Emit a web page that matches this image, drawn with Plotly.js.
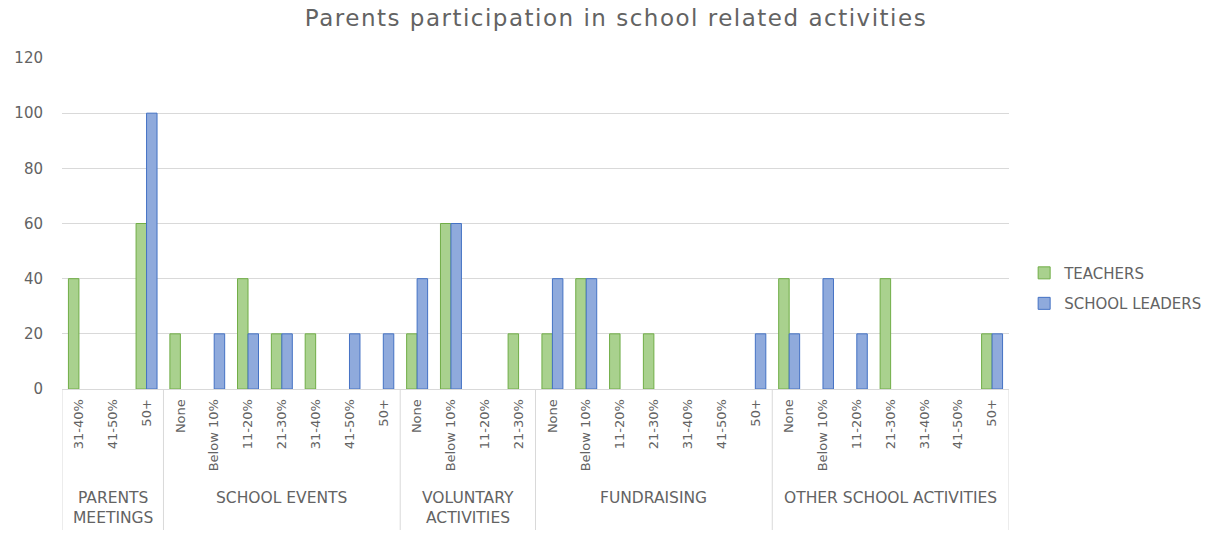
<!DOCTYPE html>
<html>
<head>
<meta charset="utf-8">
<script src="https://cdn.plot.ly/plotly-3.0.1.min.js"></script>
<style>
html,body{margin:0;padding:0;background:#fff;}
#chart{width:1211px;height:534px;}
#chart .gtitle{letter-spacing:1.5px;}
</style>
</head>
<body>
<div id="chart"></div>
<script>
// ---- data ----
const subCategories = [
  "31-40%","41-50%","50+",
  "None","Below 10%","11-20%","21-30%","31-40%","41-50%","50+",
  "None","Below 10%","11-20%","21-30%",
  "None","Below 10%","11-20%","21-30%","31-40%","41-50%","50+",
  "None","Below 10%","11-20%","21-30%","31-40%","41-50%","50+"
];
const groupNames = ["PARENTS\nMEETINGS","SCHOOL EVENTS","VOLUNTARY\nACTIVITIES","FUNDRAISING","OTHER SCHOOL ACTIVITIES"];
const groupSizes = [3, 7, 4, 7, 7];
const teachers = [40,0,60, 20,0,40,20,20,0,0, 20,60,0,20, 20,40,20,20,0,0,0, 40,0,0,40,0,0,20];
const schoolLeaders = [0,0,100, 0,20,20,20,0,20,20, 40,60,0,0, 40,40,0,0,0,0,20, 20,40,20,0,0,0,20];
const seriesNames = ["TEACHERS","SCHOOL LEADERS"];
const yTicks = [0,20,40,60,80,100,120];
const chartTitle = "Parents participation in school related activities";

// ---- build ----
const FONT = "DejaVu Sans, Verdana, sans-serif";
const GREY = "#636363";
const xIdx = subCategories.map((_, i) => i);
const nz = arr => arr.map(v => (v === 0 ? null : v));

const traces = [
  {type:"bar", name:seriesNames[0], x:xIdx, y:nz(teachers), legendgroup:"a",
   marker:{color:"#a9d18e", line:{color:"#70ad47", width:1}}},
  {type:"bar", name:seriesNames[1], x:xIdx, y:nz(schoolLeaders), legendgroup:"b",
   marker:{color:"#8faadc", line:{color:"#4472c4", width:1}}}
];

const plotH = 534 - 58 - 145;
const shapes = [];
const annotations = [];
let start = 0;
const bounds = [-0.5];
groupSizes.forEach((n, gi) => {
  const end = start + n;
  bounds.push(end - 0.5);
  const center = start + (n - 1) / 2;
  const lines = groupNames[gi].split("\n");
  lines.forEach((ln, li) => {
    annotations.push({
      xref:"x", yref:"paper", x:center, y:0, yanchor:"middle", xanchor:"center",
      yshift:-109 - li * 20, text:ln, showarrow:false,
      font:{family:FONT, size:15.5, color:GREY}
    });
  });
  start = end;
});
bounds.forEach(b => {
  shapes.push({type:"line", xref:"x", yref:"paper", x0:b, x1:b, y0:0, y1:-141/plotH,
    line:{color:"#d9d9d9", width:1}});
});

const layout = {
  width:1211, height:534,
  margin:{l:62, r:202, t:58, b:145, autoexpand:false},
  paper_bgcolor:"#fff", plot_bgcolor:"#fff",
  title:{text:chartTitle, x:616/1211, xref:"container", y:1 - 18/534, yref:"container",
         xanchor:"center", yanchor:"middle",
         font:{family:FONT, size:23, color:GREY}},
  barmode:"group", bargap:0.38, bargroupgap:0,
  showlegend:true,
  legend:{x:1.016, xanchor:"left", y:0.40, yanchor:"top", tracegroupgap:8,
          font:{family:FONT, size:15, color:GREY}, itemwidth:30},
  xaxis:{
    range:[-0.5, subCategories.length - 0.5],
    tickmode:"array", tickvals:xIdx, ticktext:subCategories, tickangle:-90,
    tickfont:{family:FONT, size:13, color:GREY},
    showgrid:false, zeroline:false, showline:true, linecolor:"#d9d9d9", linewidth:1,
    ticks:"", ticklabelstandoff:4, fixedrange:true
  },
  yaxis:{
    range:[0,120], tickmode:"array", tickvals:yTicks,
    tickfont:{family:FONT, size:15, color:GREY},
    showgrid:true, gridcolor:"#d9d9d9", gridwidth:1, zeroline:false, showline:false,
    ticks:"", ticklabelstandoff:18, fixedrange:true
  },
  shapes:shapes, annotations:annotations
};

Plotly.newPlot("chart", traces, layout, {displayModeBar:false, staticPlot:true});
</script>
</body>
</html>
